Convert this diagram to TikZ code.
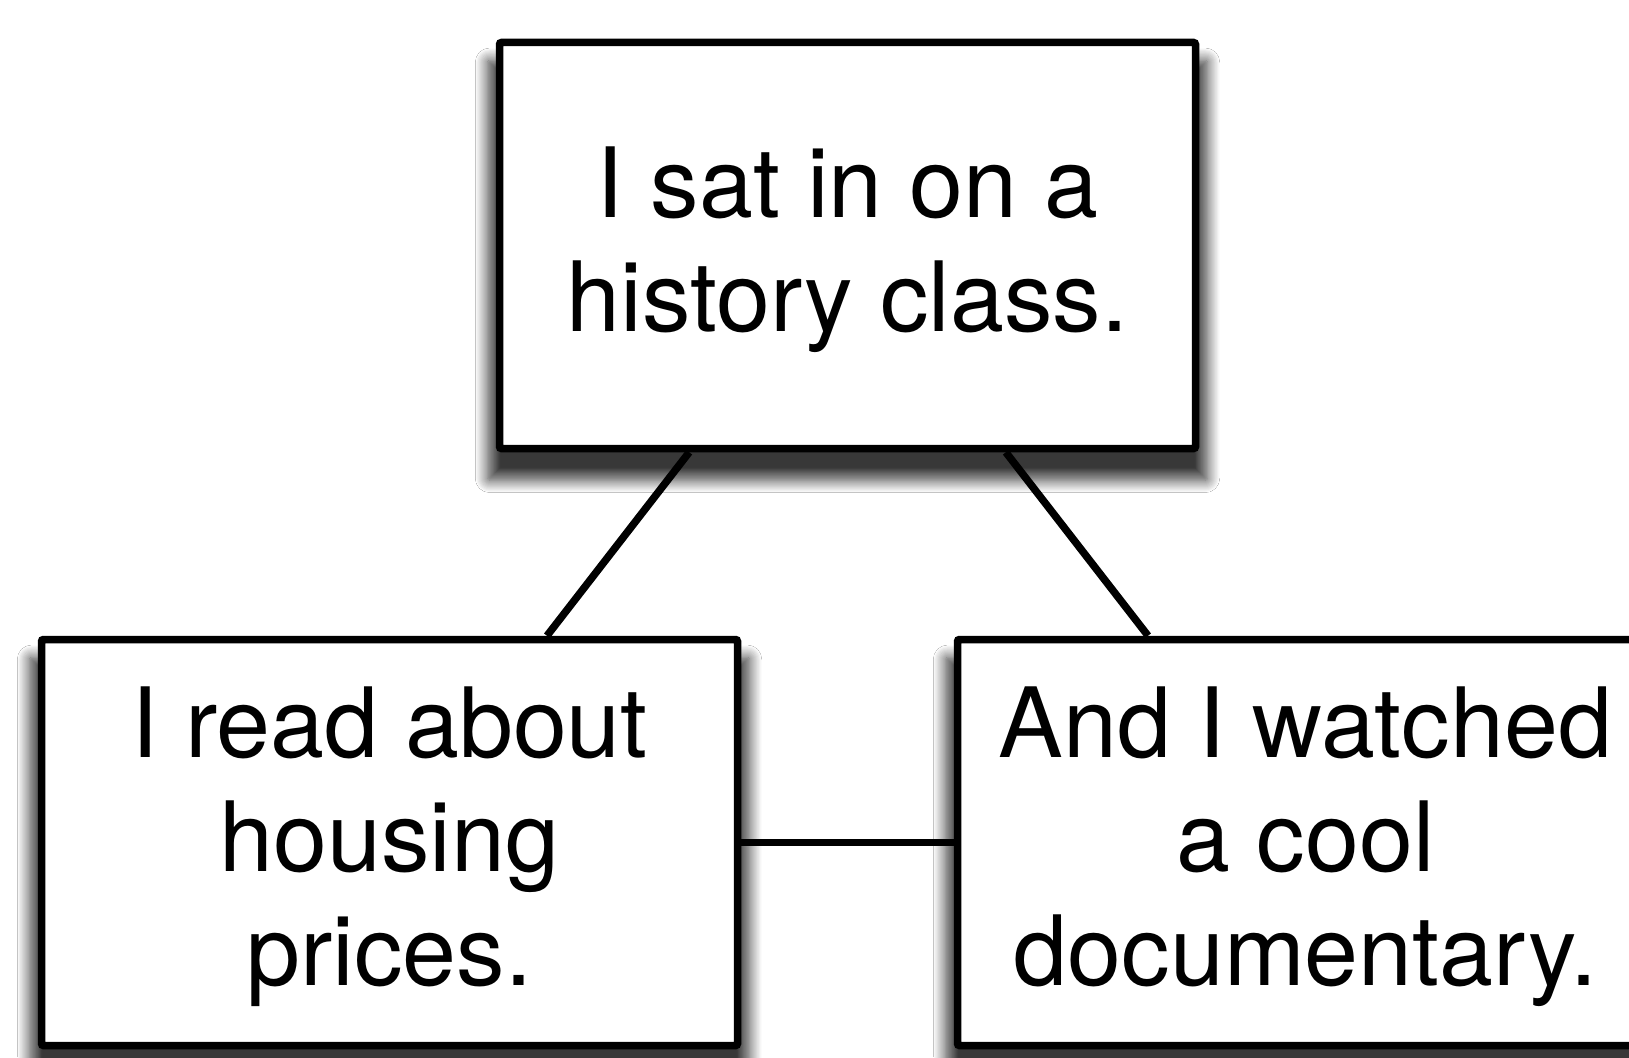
\documentclass[tikz,border=0pt]{standalone}
\usepackage{fontspec}
\setmainfont{TeX Gyre Heros}
\usetikzlibrary{shadows.blur}
\newcommand{\firstline}{\rule{0pt}{80pt}}
\tikzset{
  card/.style={draw=black, line width=7.5pt, fill=white, rectangle, rounded corners=2pt,
    minimum width=696pt, minimum height=406pt, inner sep=0pt, align=center,
    font=\fontsize{97}{114}\selectfont,
    blur shadow={shadow xshift=0pt, shadow yshift=-24pt, shadow scale=1.034,
      shadow blur radius=12pt, shadow blur steps=12, shadow opacity=78}},
  link/.style={draw=black, line width=7.5pt}
}
\begin{document}
\begin{tikzpicture}[x=1pt,y=-1pt]
\useasboundingbox[fill=white] (0,0) rectangle (1629,1057);
\node[card] (top) at (847.5,245.5) {\firstline I sat in on a\\history class.};
\node[card] (left) at (389.5,842.5) {\firstline I read about\\housing\\prices.};
\node[card] (right) at (1305.5,842.5) {\firstline And I watched\\a cool\\documentary.};
\draw[link] (top) -- (left);
\draw[link] (top) -- (right);
\draw[link] (left) -- (right);
\end{tikzpicture}
\end{document}
